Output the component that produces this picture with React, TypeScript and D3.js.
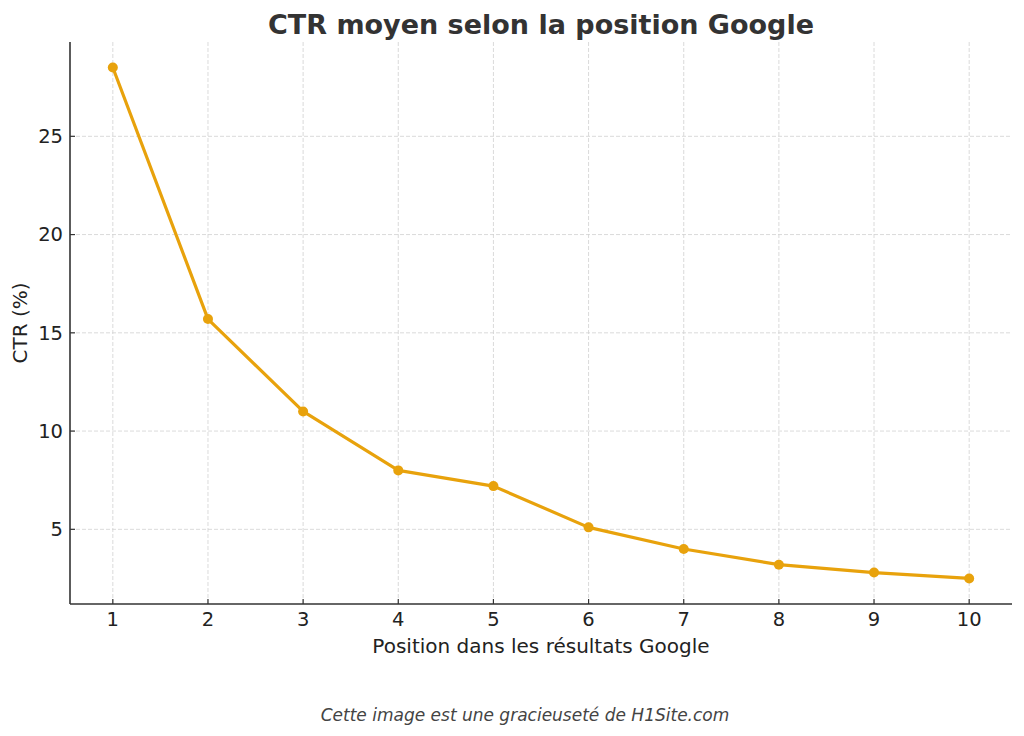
import * as d3 from 'd3'

const positions = [1, 2, 3, 4, 5, 6, 7, 8, 9, 10]
const ctrValues = [28.5, 15.7, 11.0, 8.0, 7.2, 5.1, 4.0, 3.2, 2.8, 2.5]
const yTicks = [5, 10, 15, 20, 25]

const W = 1024
const H = 736
const margin = { left: 70, right: 12, top: 42, bottom: 132 }
const font = 'DejaVu Sans, sans-serif'

const App = () => {
  const innerW = W - margin.left - margin.right
  const innerH = H - margin.top - margin.bottom

  const xScale = d3.scaleLinear().domain([0.55, 10.45]).range([0, innerW])
  const yScale = d3.scaleLinear().domain([1.2, 29.8]).range([innerH, 0])

  const lineGen = d3
    .line<number>()
    .x((_, i) => xScale(positions[i]))
    .y(d => yScale(d))

  return (
    <svg
      width={W}
      height={H}
      style={{ position: 'absolute', left: 0, top: 0, background: '#fff' }}
    >
      <text
        x={541}
        y={34}
        textAnchor="middle"
        fontFamily={font}
        fontWeight="bold"
        fontSize={27}
        fill="#333"
      >
        CTR moyen selon la position Google
      </text>
      <g transform={`translate(${margin.left},${margin.top})`}>
        {positions.map(p => (
          <line
            key={'gx' + p}
            x1={xScale(p)}
            x2={xScale(p)}
            y1={0}
            y2={innerH}
            stroke="#d0d0d0"
            strokeDasharray="4 2"
            strokeWidth={0.8}
          />
        ))}
        {yTicks.map(t => (
          <line
            key={'gy' + t}
            x1={0}
            x2={innerW}
            y1={yScale(t)}
            y2={yScale(t)}
            stroke="#d0d0d0"
            strokeDasharray="4 2"
            strokeWidth={0.8}
          />
        ))}
        <path
          d={lineGen(ctrValues) ?? ''}
          fill="none"
          stroke="#E8A20C"
          strokeWidth={3.2}
          strokeLinejoin="round"
        />
        {ctrValues.map((v, i) => (
          <circle
            key={i}
            cx={xScale(positions[i])}
            cy={yScale(v)}
            r={5}
            fill="#E8A20C"
          />
        ))}
        <line x1={0} x2={0} y1={0} y2={innerH} stroke="#333" strokeWidth={1.6} />
        <line x1={0} x2={innerW} y1={innerH} y2={innerH} stroke="#333" strokeWidth={1.6} />
        {yTicks.map(t => (
          <g key={'ty' + t} transform={`translate(0,${yScale(t)})`}>
            <line x1={0} x2={5} stroke="#333" strokeWidth={1.2} />
            <text
              x={-7}
              dy="0.35em"
              textAnchor="end"
              fontFamily={font}
              fontSize={19.5}
              fill="#222"
            >
              {t}
            </text>
          </g>
        ))}
        {positions.map(p => (
          <g key={'tx' + p} transform={`translate(${xScale(p)},${innerH})`}>
            <line y1={0} y2={-5} stroke="#333" strokeWidth={1.2} />
            <text
              y={22}
              textAnchor="middle"
              fontFamily={font}
              fontSize={19.5}
              fill="#222"
            >
              {p}
            </text>
          </g>
        ))}
        <text
          x={innerW / 2}
          y={innerH + 49}
          textAnchor="middle"
          fontFamily={font}
          fontSize={20}
          fill="#222"
        >
          Position dans les résultats Google
        </text>
        <text
          transform={`translate(-43,${innerH / 2}) rotate(-90)`}
          textAnchor="middle"
          fontFamily={font}
          fontSize={20}
          fill="#222"
        >
          CTR (%)
        </text>
      </g>
      <text
        x={525}
        y={721}
        textAnchor="middle"
        fontFamily={font}
        fontStyle="italic"
        fontSize={17}
        fill="#444"
      >
        Cette image est une gracieuseté de H1Site.com
      </text>
    </svg>
  )
}

export default App
